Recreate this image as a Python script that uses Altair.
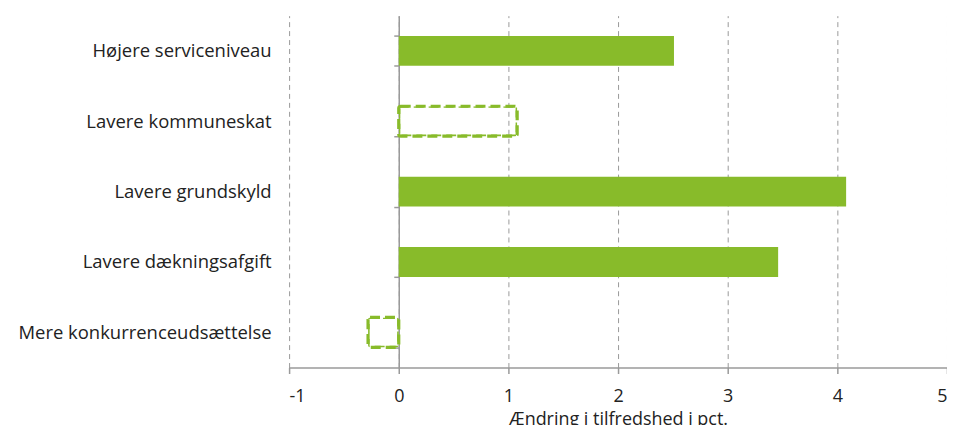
import altair as alt
import pandas as pd

categories = [
    "Højere serviceniveau",
    "Lavere kommuneskat",
    "Lavere grundskyld",
    "Lavere dækningsafgift",
    "Mere konkurrenceudsættelse",
]
values = [2.51, 1.08, 4.08, 3.46, -0.28]
kinds = ["solid", "dashed", "solid", "solid", "dashed"]
x_ticks = [-1, 0, 1, 2, 3, 4, 5]
x_title = "Ændring i tilfredshed i pct."

df = pd.DataFrame({"kategori": categories, "værdi": values, "type": kinds})

GREEN = "#88BB2A"
FONT = "Open Sans"

x_enc = alt.X(
    "værdi:Q",
    scale=alt.Scale(domain=[-1, 5], nice=False, zero=False),
    axis=alt.Axis(
        values=x_ticks,
        labelExpr="'' + datum.value",
        title=x_title,
        grid=True,
        gridDash=[5, 4],
        gridColor="#9a9a9a",
        gridWidth=1,
        domainColor="#9a9a9a",
        domainWidth=1.5,
        tickColor="#9a9a9a",
        tickSize=6,
        tickWidth=1.5,
        labelPadding=14,
        labelFontSize=18,
        labelFont=FONT,
        labelColor="#222222",
        titleFont=FONT,
        titleFontSize=18,
        titleFontWeight="normal",
        titleColor="#222222",
        titlePadding=5,
    ),
)
y_enc = alt.Y(
    "kategori:N",
    sort=categories,
    scale=alt.Scale(paddingInner=0.575, paddingOuter=0.2875),
    axis=alt.Axis(
        title=None,
        offset=-110,
        tickBand="extent",
        domainColor="#9a9a9a",
        domainWidth=1.5,
        tickColor="#9a9a9a",
        tickSize=5,
        tickWidth=1.5,
        labelPadding=123,
        labelLimit=400,
        labelFontSize=18.5,
        labelFont=FONT,
        labelColor="#222222",
        grid=False,
    ),
)

base = alt.Chart(df).encode(x=x_enc, y=y_enc)

solid = base.transform_filter(alt.datum.type == "solid").mark_bar(color=GREEN)
dashed = base.transform_filter(alt.datum.type == "dashed").mark_bar(
    fill="white",
    fillOpacity=0,
    stroke=GREEN,
    strokeWidth=3.2,
    strokeDash=[10, 5],
    cornerRadius=2,
)

chart = (
    alt.layer(solid, dashed)
    .properties(
        width=660,
        height=353,
        background="white",
        autosize=alt.AutoSizeParams(type="none"),
        padding={"left": 282, "top": 7, "right": 0, "bottom": 60},
    )
    .configure_view(stroke=None, strokeWidth=0)
)

chart.save("out.html", embed_options={"renderer": "svg", "actions": False})
